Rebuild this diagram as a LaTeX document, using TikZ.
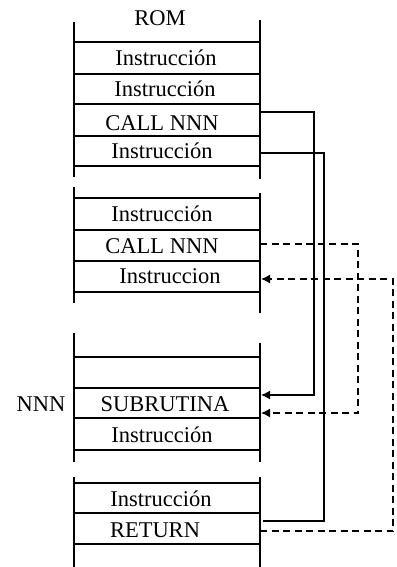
\documentclass[tikz,border=0pt]{standalone}
\usepackage{fontspec}
\setmainfont{Liberation Serif}
\usetikzlibrary{arrows.meta}
\tikzset{
  rule/.style={line width=1.8pt, line cap=butt},
  lbl/.style={anchor=base, inner sep=0pt, font=\fontsize{22.5}{25}\selectfont},
  link/.style={line width=1.5pt},
  dlink/.style={line width=1.5pt, dash pattern=on 7pt off 4.5pt},
  tip/.style={-{Latex[length=9pt,width=9pt]}}
}
\begin{document}
\begin{tikzpicture}[x=1pt,y=-1pt]
\useasboundingbox (0,0) rectangle (396,567);
% block 1
\draw[rule] (74,22) -- (74,177);
\draw[rule] (260,20) -- (260,179);
\foreach \y in {42,74,104,136,166} \draw[rule] (74,\y) -- (260,\y);
% block 2
\draw[rule] (74,187) -- (74,303);
\draw[rule] (260,193) -- (260,313);
\foreach \y in {198,230,261,292} \draw[rule] (74,\y) -- (260,\y);
% block 3
\draw[rule] (74,333) -- (74,462);
\draw[rule] (260,343) -- (260,462);
\foreach \y in {357,388,418,450} \draw[rule] (74,\y) -- (260,\y);
% block 4
\draw[rule] (74,477) -- (74,567);
\draw[rule] (260,477) -- (260,567);
\foreach \y in {483,513,544} \draw[rule] (74,\y) -- (260,\y);

% texts
\node[lbl] (rom) at (160,26) {ROM};
\node[lbl] (i1) at (166,65.5) {Instrucción};
\node[lbl] (i2) at (165,97) {Instrucción};
\node[lbl] (c1) at (162,130) {CALL NNN};
\node[lbl] (i3) at (162,158) {Instrucción};
\node[lbl] (i4) at (162,221) {Instrucción};
\node[lbl] (c2) at (162,253) {CALL NNN};
\node[lbl] (i5) at (170,283) {Instruccion};
\node[lbl] (nnn) at (41,411) {NNN};
\node[lbl] (sub) at (165,411) {SUBRUTINA};
\node[lbl] (i6) at (162,442) {Instrucción};
\node[lbl] (i7) at (161,506) {Instrucción};
\node[lbl] (ret) at (155,537) {RETURN};

% connector end points
\coordinate (c1out) at (260,112);
\coordinate (i3out) at (260,153);
\coordinate (c2out) at (260,244);
\coordinate (i5in) at (261,279);
\coordinate (subin1) at (261,395);
\coordinate (subin2) at (261,413);
\coordinate (retout1) at (263,521);
\coordinate (retout2) at (260,531);
\coordinate (k1) at (314,112);
\coordinate (k2) at (324,153);
\coordinate (k3) at (358,244);
\coordinate (k4) at (393,531);

\draw[link,tip] (c1out) -- (k1) |- (subin1);
\draw[link] (i3out) -- (k2) |- (retout1);
\draw[dlink,tip] (c2out) -- (k3) |- (subin2);
\draw[dlink,tip] (retout2) -- (k4) |- (i5in);
\end{tikzpicture}
\end{document}
